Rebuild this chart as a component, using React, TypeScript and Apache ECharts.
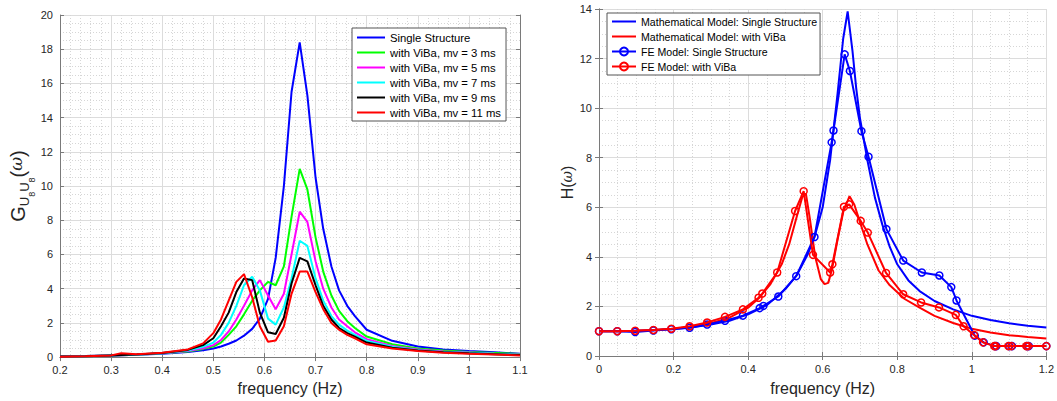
import React, { useEffect, useRef } from 'react';
import * as echarts from 'echarts';

// ---------- Left chart: G_U8U8(ω) ----------
const freqLeft = [0.2, 0.25, 0.3, 0.32, 0.35, 0.4, 0.45, 0.48, 0.5, 0.515, 0.53, 0.545, 0.56, 0.576, 0.591, 0.607, 0.622, 0.638, 0.653, 0.669, 0.684, 0.7, 0.715, 0.731, 0.746, 0.762, 0.777, 0.8, 0.85, 0.9, 0.95, 1.0, 1.05, 1.1];
const singleStructure = [0.05, 0.07, 0.1, 0.11, 0.14, 0.2, 0.3, 0.4, 0.5, 0.62, 0.78, 0.97, 1.25, 1.65, 2.25, 3.4, 5.8, 10, 15.5, 18.4, 15.3, 10.5, 7.5, 5.3, 3.9, 3.0, 2.4, 1.6, 0.95, 0.62, 0.45, 0.35, 0.28, 0.2];
const mv3 = [0.04, 0.06, 0.1, 0.11, 0.14, 0.22, 0.33, 0.48, 0.62, 0.85, 1.3, 1.8, 2.5, 3.3, 3.9, 4.4, 4.2, 5.3, 8.2, 11, 9.8, 7.0, 5.0, 3.6, 2.7, 2.1, 1.7, 1.2, 0.75, 0.5, 0.38, 0.3, 0.24, 0.18];
const mv5 = [0.04, 0.06, 0.1, 0.11, 0.14, 0.22, 0.35, 0.52, 0.7, 1.0, 1.5, 2.2, 3.0, 3.9, 4.5, 3.6, 2.8, 3.7, 6.0, 8.5, 7.9, 5.6, 4.0, 2.9, 2.2, 1.8, 1.45, 1.05, 0.65, 0.45, 0.33, 0.27, 0.2, 0.15];
const mv7 = [0.03, 0.05, 0.1, 0.12, 0.14, 0.23, 0.38, 0.6, 0.85, 1.3, 2.0, 3.0, 4.2, 4.7, 3.9, 2.25, 1.9, 2.9, 4.6, 6.8, 6.5, 4.6, 3.3, 2.4, 1.9, 1.55, 1.3, 0.95, 0.6, 0.4, 0.3, 0.25, 0.19, 0.14];
const mv9 = [0.03, 0.05, 0.1, 0.12, 0.15, 0.24, 0.42, 0.7, 1.1, 1.8, 2.6, 3.8, 4.6, 4.5, 2.6, 1.45, 1.35, 2.3, 4.3, 5.8, 5.6, 4.2, 3.0, 2.2, 1.7, 1.4, 1.2, 0.85, 0.55, 0.38, 0.28, 0.22, 0.17, 0.12];
const mv11 = [0.02, 0.05, 0.1, 0.23, 0.17, 0.25, 0.45, 0.8, 1.4, 2.2, 3.3, 4.4, 4.85, 3.5, 1.8, 0.9, 0.97, 1.8, 3.7, 5.0, 5.0, 3.8, 2.8, 2.0, 1.6, 1.3, 1.1, 0.75, 0.5, 0.35, 0.25, 0.2, 0.15, 0.1];

const leftNames = ['Single Structure', 'with ViBa, mv = 3 ms', 'with ViBa, mv = 5 ms', 'with ViBa, mv = 7 ms', 'with ViBa, mv = 9 ms', 'with ViBa, mv = 11 ms'];
const leftColors = ['#0000ff', '#00ff00', '#ff00ff', '#00ffff', '#000000', '#ff0000'];
const leftValues = [singleStructure, mv3, mv5, mv7, mv9, mv11];

// ---------- Right chart: H(ω) ----------
const freqMathSingle = [0, 0.05, 0.1, 0.15, 0.2, 0.25, 0.3, 0.35, 0.4, 0.45, 0.5, 0.53, 0.56, 0.58, 0.6, 0.62, 0.64, 0.655, 0.667, 0.68, 0.69, 0.7, 0.72, 0.74, 0.76, 0.78, 0.8, 0.83, 0.86, 0.9, 0.95, 1.0, 1.05, 1.1, 1.15, 1.2];
const mathSingle = [1.0, 1.0, 1.02, 1.05, 1.09, 1.16, 1.27, 1.42, 1.68, 2.05, 2.7, 3.25, 4.1, 4.9, 6.0, 7.9, 10.6, 12.8, 13.9, 12.3, 10.8, 9.6, 7.9, 6.4, 5.3, 4.4, 3.7, 3.05, 2.62, 2.22, 1.88, 1.62, 1.45, 1.32, 1.22, 1.15];
const freqMathViba = [0, 0.05, 0.1, 0.15, 0.2, 0.25, 0.3, 0.35, 0.4, 0.43, 0.46, 0.49, 0.51, 0.53, 0.545, 0.555, 0.565, 0.58, 0.595, 0.605, 0.615, 0.625, 0.64, 0.655, 0.672, 0.685, 0.7, 0.72, 0.75, 0.78, 0.82, 0.86, 0.9, 0.95, 1.0, 1.05, 1.1, 1.15, 1.2];
const mathViba = [1.0, 1.0, 1.02, 1.05, 1.1, 1.18, 1.32, 1.55, 1.95, 2.35, 2.9, 3.7, 4.5, 5.6, 6.4, 6.55, 5.6, 4.0, 3.1, 2.9, 2.95, 3.5, 4.7, 5.8, 6.45, 6.1, 5.4, 4.5, 3.45, 2.85, 2.3, 1.95, 1.62, 1.33, 1.1, 0.95, 0.84, 0.77, 0.71];
const freqFESingle = [0, 0.049, 0.097, 0.146, 0.194, 0.243, 0.29, 0.338, 0.386, 0.431, 0.441, 0.481, 0.529, 0.578, 0.624, 0.629, 0.659, 0.673, 0.704, 0.723, 0.771, 0.816, 0.866, 0.913, 0.945, 0.959, 1.008, 1.032, 1.062, 1.066, 1.1, 1.108, 1.148, 1.153, 1.2];
const feSingle = [1.0, 1.0, 0.97, 1.03, 1.08, 1.14, 1.27, 1.42, 1.63, 1.93, 2.02, 2.4, 3.22, 4.8, 8.62, 9.1, 12.17, 11.5, 9.07, 8.04, 5.12, 3.85, 3.37, 3.25, 2.78, 2.24, 0.82, 0.55, 0.4, 0.4, 0.4, 0.4, 0.4, 0.4, 0.4];
const freqFEViba = [0, 0.049, 0.097, 0.146, 0.194, 0.243, 0.29, 0.338, 0.386, 0.428, 0.438, 0.478, 0.526, 0.549, 0.574, 0.62, 0.626, 0.657, 0.671, 0.702, 0.721, 0.77, 0.816, 0.864, 0.912, 0.957, 0.978, 1.006, 1.03, 1.06, 1.064, 1.098, 1.106, 1.146, 1.151, 1.2];
const feViba = [1.0, 1.0, 1.02, 1.05, 1.1, 1.2, 1.35, 1.58, 1.88, 2.35, 2.52, 3.37, 5.85, 6.65, 4.08, 3.37, 3.7, 6.02, 6.12, 5.45, 4.98, 3.35, 2.49, 2.16, 1.96, 1.66, 1.2, 0.85, 0.55, 0.4, 0.4, 0.4, 0.4, 0.4, 0.4, 0.4];

const rightNames = ['Mathematical Model: Single Structure', 'Mathematical Model: with ViBa', 'FE Model: Single Structure', 'FE Model: with ViBa'];

const FONT = 'Liberation Sans';
const AXIS_COLOR = '#7a7a7a';
const LABEL_COLOR = '#262626';

function pairs(xs: number[], ys: number[]) {
  return xs.map((x, i) => [x, ys[i]]);
}

function mainX(grid: number, min: number, max: number, interval: number, minorSplit: number, nameGap: number) {
  return {
    type: 'value', gridIndex: grid, position: 'bottom', min, max, interval,
    name: 'frequency (Hz)', nameLocation: 'middle', nameGap,
    nameTextStyle: { fontFamily: FONT, fontSize: 16, color: LABEL_COLOR },
    axisLine: { show: true, lineStyle: { color: AXIS_COLOR, width: 1 } },
    axisTick: { show: true, inside: true, length: 4, lineStyle: { color: AXIS_COLOR } },
    axisLabel: { fontFamily: FONT, fontSize: 11, color: LABEL_COLOR, margin: 7 },
    splitLine: { show: true, lineStyle: { color: '#dcdcdc', width: 1 } },
    minorTick: { show: false, splitNumber: minorSplit },
    minorSplitLine: { show: true, lineStyle: { color: '#d6d6d6', width: 1, type: [1, 2] } },
  };
}
function topX(grid: number, min: number, max: number, interval: number) {
  return {
    type: 'value', gridIndex: grid, position: 'top', min, max, interval,
    axisLine: { show: true, lineStyle: { color: AXIS_COLOR, width: 1 } },
    axisTick: { show: true, inside: true, length: 4, lineStyle: { color: AXIS_COLOR } },
    axisLabel: { show: false },
    splitLine: { show: false },
  };
}
function mainY(grid: number, min: number, max: number, interval: number, name: string, nameGap: number, rich: any) {
  return {
    type: 'value', gridIndex: grid, position: 'left', min, max, interval,
    name, nameLocation: 'middle', nameGap, nameRotate: 90,
    nameTextStyle: { fontFamily: FONT, fontSize: 16, color: LABEL_COLOR, rich },
    axisLine: { show: true, lineStyle: { color: AXIS_COLOR, width: 1 } },
    axisTick: { show: true, inside: true, length: 4, lineStyle: { color: AXIS_COLOR } },
    axisLabel: { fontFamily: FONT, fontSize: 11, color: LABEL_COLOR, margin: 7 },
    splitLine: { show: true, lineStyle: { color: '#dcdcdc', width: 1 } },
    minorTick: { show: false, splitNumber: 4 },
    minorSplitLine: { show: true, lineStyle: { color: '#d6d6d6', width: 1, type: [1, 2] } },
  };
}
function rightY(grid: number, min: number, max: number, interval: number) {
  return {
    type: 'value', gridIndex: grid, position: 'right', min, max, interval,
    axisLine: { show: true, lineStyle: { color: AXIS_COLOR, width: 1 } },
    axisTick: { show: true, inside: true, length: 4, lineStyle: { color: AXIS_COLOR } },
    axisLabel: { show: false },
    splitLine: { show: false },
  };
}

const leftRich = {
  g: { fontFamily: FONT, fontSize: 20, color: LABEL_COLOR, lineHeight: 20, verticalAlign: 'top' },
  u: { fontFamily: FONT, fontSize: 13, color: LABEL_COLOR, lineHeight: 13, verticalAlign: 'top', padding: [10, 0, 0, 0] },
  e: { fontFamily: FONT, fontSize: 9, color: LABEL_COLOR, lineHeight: 9, verticalAlign: 'top', padding: [20, 0, 0, 0] },
  p: { fontFamily: FONT, fontSize: 20, color: LABEL_COLOR, lineHeight: 20, verticalAlign: 'top' },
  w: { fontFamily: 'DejaVu Serif', fontStyle: 'italic', fontSize: 17, color: LABEL_COLOR, lineHeight: 20, verticalAlign: 'top' },
};
const rightRich = {
  p: { fontFamily: FONT, fontSize: 16, color: LABEL_COLOR, lineHeight: 20, verticalAlign: 'middle' },
  w: { fontFamily: 'DejaVu Serif', fontStyle: 'italic', fontSize: 14, color: LABEL_COLOR, lineHeight: 20, verticalAlign: 'middle' },
};

const legendBase = {
  orient: 'vertical', selectedMode: false, backgroundColor: '#ffffff',
  borderColor: '#555555', borderWidth: 1, borderRadius: 0,
  itemHeight: 10, itemGap: 4,
};
const noSymbol = { color: 'rgba(0,0,0,0)', borderColor: 'rgba(0,0,0,0)', borderWidth: 0 };

export default function App() {
  const ref = useRef<HTMLDivElement>(null);
  useEffect(() => {
    const chart = echarts.init(ref.current!, null, { renderer: 'svg' });
    const leftSeries = leftNames.map((name, i) => ({
      name, type: 'line', xAxisIndex: 0, yAxisIndex: 0,
      data: pairs(freqLeft, leftValues[i]),
      symbol: 'none', smooth: false,
      lineStyle: { color: leftColors[i], width: 2 },
      itemStyle: { color: leftColors[i] },
      z: 2 + i,
    }));
    const rightSeries = [
      { name: rightNames[0], type: 'line', xAxisIndex: 2, yAxisIndex: 2, data: pairs(freqMathSingle, mathSingle), symbol: 'none', lineStyle: { color: '#0000ff', width: 2 }, itemStyle: { color: '#0000ff' }, z: 2 },
      { name: rightNames[1], type: 'line', xAxisIndex: 2, yAxisIndex: 2, data: pairs(freqMathViba, mathViba), symbol: 'none', lineStyle: { color: '#ff0000', width: 2 }, itemStyle: { color: '#ff0000' }, z: 3 },
      { name: rightNames[2], type: 'line', xAxisIndex: 2, yAxisIndex: 2, data: pairs(freqFESingle, feSingle), symbol: 'circle', symbolSize: 7, showSymbol: true, lineStyle: { color: '#0000ff', width: 2 }, itemStyle: { color: 'rgba(0,0,0,0)', borderColor: '#0000ff', borderWidth: 1.5 }, z: 4 },
      { name: rightNames[3], type: 'line', xAxisIndex: 2, yAxisIndex: 2, data: pairs(freqFEViba, feViba), symbol: 'circle', symbolSize: 7, showSymbol: true, lineStyle: { color: '#ff0000', width: 2 }, itemStyle: { color: 'rgba(0,0,0,0)', borderColor: '#ff0000', borderWidth: 1.5 }, z: 5 },
    ];
    chart.setOption({
      animation: false,
      backgroundColor: '#ffffff',
      grid: [
        { left: 60, top: 15, width: 460, height: 346, containLabel: false },
        { left: 599, top: 9, width: 453, height: 348, containLabel: false },
      ],
      xAxis: [
        mainX(0, 0.2, 1.1, 0.1, 5, 20),
        topX(0, 0.2, 1.1, 0.1),
        mainX(1, 0, 1.2, 0.2, 4, 24),
        topX(1, 0, 1.2, 0.2),
      ],
      yAxis: [
        mainY(0, 0, 20, 2, '{g|G}{u|U}{e|8}{u|U}{e|8}{p|(}{w|ω}{p|)}', 21, leftRich),
        rightY(0, 0, 20, 2),
        mainY(1, 0, 14, 2, '{p|H(}{w|ω}{p|)}', 22, rightRich),
        rightY(1, 0, 14, 2),
      ],
      legend: [
        {
          ...legendBase, left: 352, top: 28, itemWidth: 28, padding: [4, 5, 3, 4],
          data: leftNames.map((name) => ({ name, itemStyle: noSymbol })),
          textStyle: { fontFamily: FONT, fontSize: 11.3, color: '#000' },
        },
        {
          ...legendBase, left: 607, top: 13, itemWidth: 24, padding: [3, 3, 3, 4],
          data: [
            { name: rightNames[0], itemStyle: noSymbol },
            { name: rightNames[1], itemStyle: noSymbol },
            { name: rightNames[2] },
            { name: rightNames[3] },
          ],
          textStyle: { fontFamily: FONT, fontSize: 10.6, color: '#000' },
        },
      ],
      series: [...leftSeries, ...rightSeries],
    });
    return () => chart.dispose();
  }, []);
  return <div ref={ref} style={{ position: 'fixed', left: 0, top: 0, width: 1057, height: 401, background: '#fff' }} />;
}
